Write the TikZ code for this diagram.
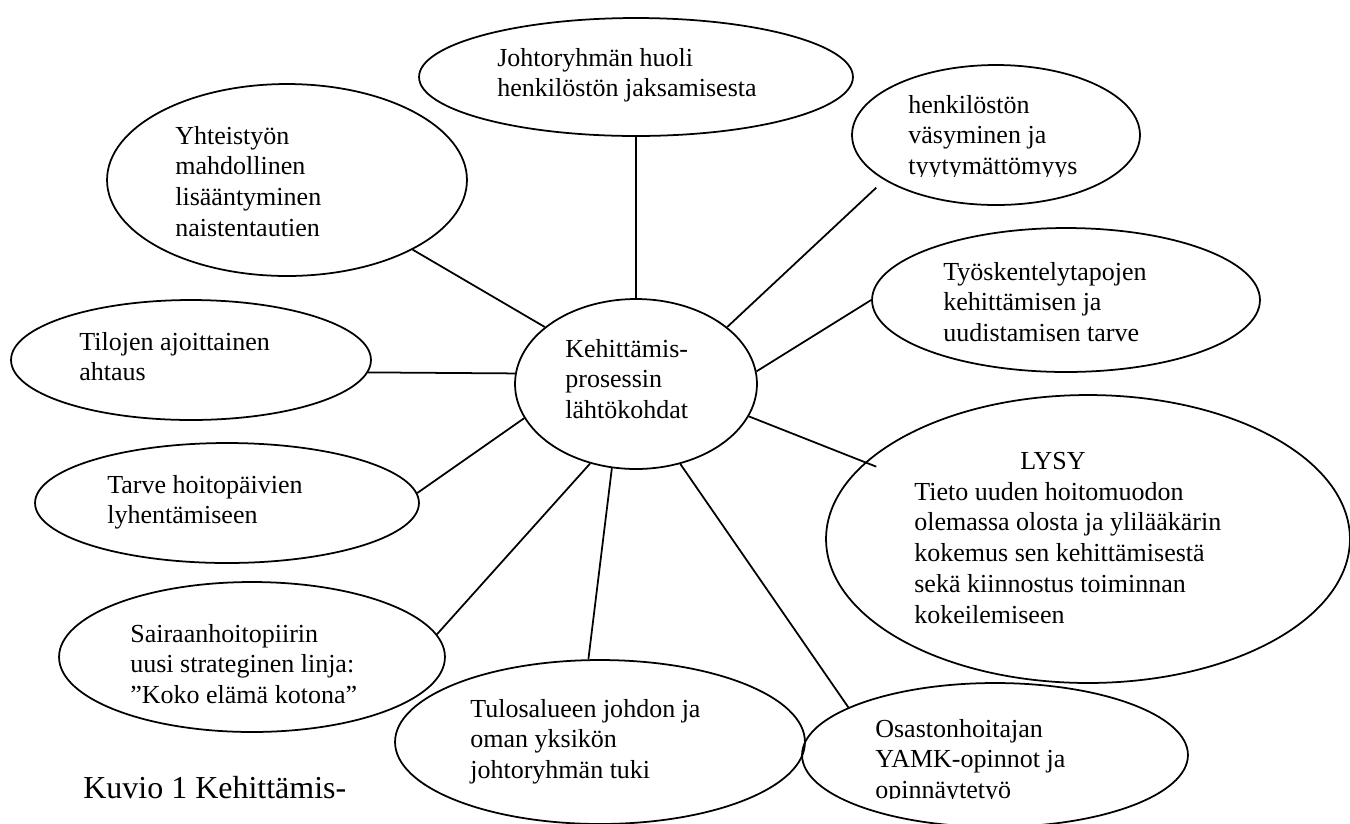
\documentclass[tikz,border=0pt]{standalone}
\usepackage{fontspec}
\setmainfont{Liberation Serif}
\usetikzlibrary{shapes.geometric}

\newcommand{\rivit}[1]{\begin{tabular}[t]{@{}l@{}}#1\end{tabular}}

\begin{document}
\begin{tikzpicture}[x=0.02cm, y=-0.02cm,
  bubble/.style={draw, ellipse, line width=1pt, inner sep=0pt},
  txt/.style={anchor=base west, inner sep=0pt, font=\fontsize{14.8}{17.6}\selectfont},
  spoke/.style={line width=1pt}]
\useasboundingbox (0,0) rectangle (1350,823);

% ellipses
\node [bubble, minimum width=4.84cm, minimum height=3.40cm] (keski) at (636,384) {};
\node [bubble, minimum width=8.68cm, minimum height=2.36cm] (huoli) at (636,77) {};
\node [bubble, minimum width=5.76cm, minimum height=2.80cm] (vasymys) at (996,135) {};
\node [bubble, minimum width=7.76cm, minimum height=2.88cm] (tyotavat) at (1066,300) {};
\node [bubble, minimum width=10.48cm, minimum height=5.76cm] (lysy) at (1088,539) {};
\node [bubble, minimum width=7.72cm, minimum height=2.88cm] (osasto) at (995,755) {};
\node [bubble, minimum width=8.20cm, minimum height=3.28cm] (tulos) at (600,742) {};
\node [bubble, minimum width=7.72cm, minimum height=3.00cm] (sairaan) at (252,657) {};
\node [bubble, minimum width=7.68cm, minimum height=2.40cm] (tarve) at (227,503) {};
\node [bubble, minimum width=7.20cm, minimum height=2.40cm] (tilat) at (191,360) {};
\node [bubble, minimum width=7.20cm, minimum height=3.84cm] (yhteis) at (287,180) {};

% spokes
\draw [spoke] (keski.90) -- (huoli.-90);
\draw [spoke, shorten >=0.22cm] (keski.32) -- (vasymys.202);
\draw [spoke] (keski.6) -- (tyotavat.180);
\draw [spoke, shorten >=-0.24cm] (keski.-16) -- (lysy.161);
\draw [spoke] (keski.-61) -- (osasto.162);
\draw [spoke] (keski.-106) -- (tulos.98);
\draw [spoke] (keski.-120) -- (sairaan.7);
\draw [spoke] (keski.197) -- (tarve.3);
\draw [spoke] (keski.175) -- (tilat.-4);
\draw [spoke] (keski.148) -- (yhteis.-29);

% texts
\node [txt] (keski-t) at (565,357) {\rivit{Kehittämis-\\prosessin\\lähtökohdat}};
\node [txt] (huoli-t) at (497,66) {\rivit{Johtoryhmän huoli\\henkilöstön jaksamisesta}};
\begin{scope}
\clip (840,60) rectangle (1160,176);
\node [txt] (vasymys-t) at (908,113) {\rivit{henkilöstön\\väsyminen ja\\tyytymättömyys}};
\end{scope}
\node [txt] (tyotavat-t) at (943,280) {\rivit{Työskentelytapojen\\kehittämisen ja\\uudistamisen tarve}};
\node [txt, anchor=base] (lysy-o) at (1053,469) {LYSY};
\node [txt] (lysy-t) at (914,500) {\rivit{Tieto uuden hoitomuodon\\olemassa olosta ja ylilääkärin\\kokemus sen kehittämisestä\\sekä kiinnostus toiminnan\\kokeilemiseen}};
\begin{scope}
\clip (860,700) rectangle (1100,798);
\node [txt] (osasto-t) at (875,737) {\rivit{Osastonhoitajan\\YAMK-opinnot ja\\opinnäytetyö}};
\end{scope}
\node [txt] (tulos-t) at (470,717) {\rivit{Tulosalueen johdon ja\\oman yksikön\\johtoryhmän tuki}};
\node [txt] (sairaan-t) at (130,642) {\rivit{Sairaanhoitopiirin\\uusi strateginen linja:\\”Koko elämä kotona”}};
\node [txt] (tarve-t) at (107,493) {\rivit{Tarve hoitopäivien\\lyhentämiseen}};
\node [txt] (tilat-t) at (79,350) {\rivit{Tilojen ajoittainen\\ahtaus}};
\node [txt] (yhteis-t) at (175,144) {\rivit{Yhteistyön\\mahdollinen\\lisääntyminen\\naistentautien}};

\node [txt, font=\fontsize{18.2}{21}\selectfont] (kuvio) at (83,798) {Kuvio 1 Kehittämis-};
\end{tikzpicture}
\end{document}
